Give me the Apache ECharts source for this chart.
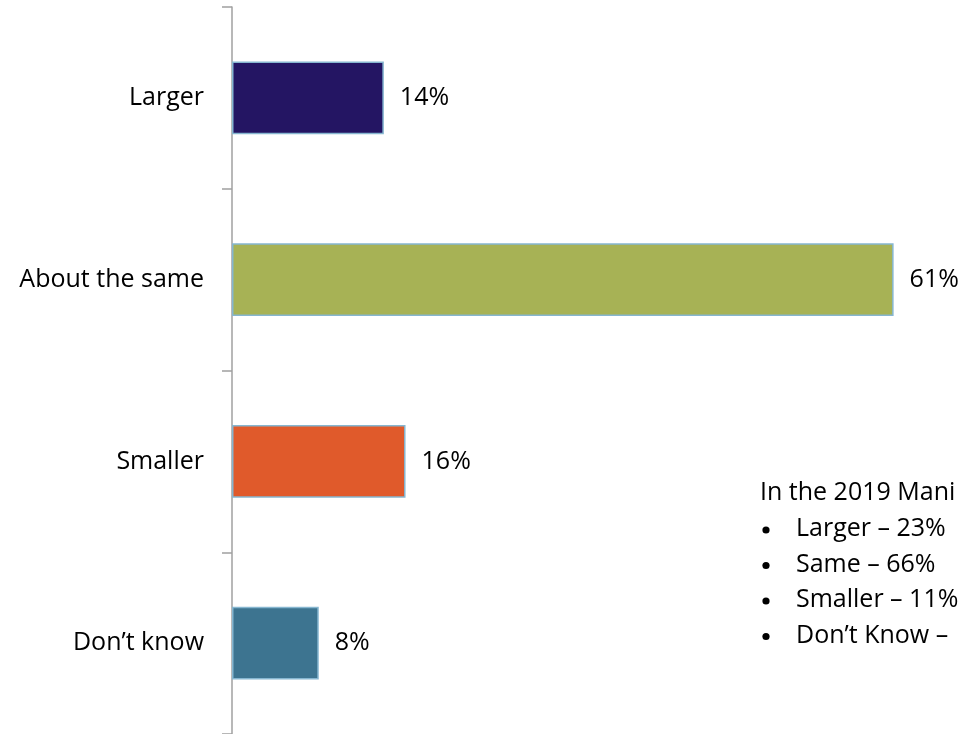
<!DOCTYPE html>
<html>
<head>
<meta charset="utf-8">
<script src="https://cdn.jsdelivr.net/npm/echarts@6/dist/echarts.min.js"></script>
<style>
  html, body { margin: 0; padding: 0; background: #fff; }
  #chart { width: 963px; height: 734px; }
</style>
</head>
<body>
<div id="chart"></div>
<script>
// Survey answers and their shares (%)
const categories = ['Larger', 'About the same', 'Smaller', 'Don\u2019t know'];
const values = [14, 61, 16, 8];
const barColors = ['#241563', '#a7b255', '#e05a2b', '#3d7490'];

// Side note comparing with 2019
const noteTitle = 'In the 2019 Mani';
const noteItems = ['Larger \u2013 23%', 'Same \u2013 66%', 'Smaller \u2013 11%', 'Don\u2019t Know \u2013'];

const FONT = '"Open Sans", Lato, sans-serif';
const FS = 25;

const chart = echarts.init(document.getElementById('chart'));

const noteGraphics = [{
  type: 'text', x: 760, y: 493,
  style: { text: noteTitle, font: FS + 'px ' + FONT, fill: '#000', verticalAlign: 'middle' }
}];
noteItems.forEach((t, i) => {
  const y = 529 + i * 35.5;
  noteGraphics.push({
    type: 'circle', shape: { cx: 766, cy: y + 1, r: 3.6 },
    style: { fill: '#000' }
  });
  noteGraphics.push({
    type: 'text', x: 796, y: y,
    style: { text: t, font: FS + 'px ' + FONT, fill: '#000', verticalAlign: 'middle' }
  });
});

chart.setOption({
  animation: false,
  grid: { left: 232, top: 7, width: 705, height: 731, containLabel: false },
  xAxis: {
    type: 'value', min: 0, max: 65, show: false
  },
  yAxis: {
    type: 'category',
    data: categories,
    inverse: true,
    axisLine: { show: true, lineStyle: { color: '#a0a0a0', width: 1.5 } },
    axisTick: { show: true, length: 10, lineStyle: { color: '#a0a0a0', width: 1.5 } },
    axisLabel: { margin: 28, fontSize: FS, color: '#000', fontFamily: FONT },
    splitLine: { show: false }
  },
  series: [{
    type: 'bar',
    barWidth: '40%',
    data: values.map((v, i) => ({
      value: v,
      itemStyle: { color: barColors[i], borderColor: '#86b6d0', borderWidth: 1.5 }
    })),
    label: {
      show: true, position: 'right', distance: 16,
      formatter: p => p.value + '%',
      fontSize: FS, color: '#000', fontFamily: FONT
    }
  }],
  graphic: noteGraphics
});
</script>
</body>
</html>
